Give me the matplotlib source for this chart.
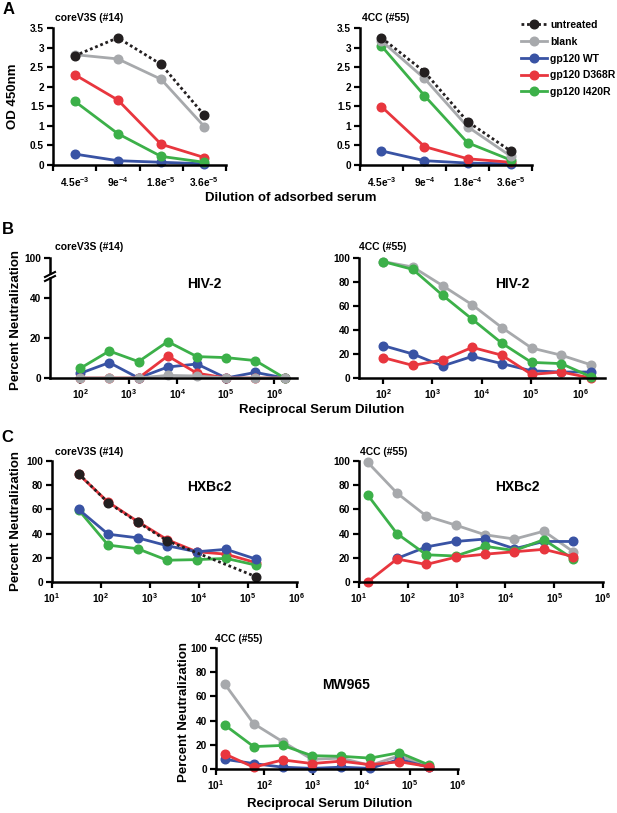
import matplotlib.pyplot as plt
import numpy as np
from matplotlib.lines import Line2D

plt.rcParams["font.family"] = ["Liberation Sans", "DejaVu Sans"]
plt.rcParams["font.weight"] = "bold"
plt.rcParams["mathtext.fontset"] = "custom"
plt.rcParams["mathtext.rm"] = "Liberation Sans:bold"
plt.rcParams["mathtext.bf"] = "Liberation Sans:bold"
plt.rcParams["mathtext.default"] = "bf"

W, H = 617, 813
nan = np.nan

# --- Series styling ---
COLORS = {
    "untreated": "#231f20",
    "blank": "#a7a9ac",
    "gp120 WT": "#3953a4",
    "gp120 D368R": "#e8363e",
    "gp120 I420R": "#3cb049",
}
LEGEND_ORDER = ["untreated", "blank", "gp120 WT", "gp120 D368R", "gp120 I420R"]
LW, MS = 2.0, 6.2

# --- A: OD450 of adsorbed serum ---
a14_dilutions = [r"4.5e$^{-3}$", r"9e$^{-4}$", r"1.8e$^{-5}$", r"3.6e$^{-5}$"]
a55_dilutions = [r"4.5e$^{-3}$", r"9e$^{-4}$", r"1.8e$^{-4}$", r"3.6e$^{-5}$"]
a14_untreated = [2.79, 3.25, 2.57, 1.27]
a14_blank = [2.82, 2.71, 2.19, 0.98]
a14_wt = [0.28, 0.11, 0.07, 0.03]
a14_d368r = [2.31, 1.66, 0.53, 0.19]
a14_i420r = [1.63, 0.80, 0.22, 0.07]
a55_untreated = [3.25, 2.38, 1.11, 0.36]
a55_blank = [3.17, 2.21, 0.98, 0.23]
a55_wt = [0.36, 0.11, 0.05, 0.03]
a55_d368r = [1.49, 0.47, 0.16, 0.07]
a55_i420r = [3.04, 1.77, 0.57, 0.13]
a_yticks = [0, 0.5, 1, 1.5, 2, 2.5, 3, 3.5]
a_yticklabels = ["0", "0.5", "1", "1.5", "2", "2.5", "3", "3.5"]

# --- B: HIV-2 neutralization ---
b_dilution = [100, 400, 1600, 6400, 25600, 102400, 409600, 1638400]
b14_blank = [0, 0, 0, 1.3, 1.0, 0, 0, 0]
b14_wt = [2.3, 7.7, 0, 5.5, 7.0, 0, 2.8, 0]
b14_d368r = [0, 0, 0, 11, 2.4, 0, 0, 0]
b14_i420r = [4.8, 13.5, 8.2, 18.2, 10.7, 10.2, 8.7, 0]
b55_blank = [97, 92.5, 77, 61, 42, 25, 19, 11]
b55_wt = [27, 20, 10, 18, 12, 6, 5, 5]
b55_d368r = [17, 10.5, 15, 25.5, 19, 3, 5, 0]
b55_i420r = [97, 90.5, 69, 49, 29, 13, 12, 1]

# --- C: HXBc2 and MW965 neutralization ---
c14_dilution = [35, 140, 560, 2240, 8960, 35840, 143360]
c14_untreated = [89.5, 65.5, 49.5, 34, nan, nan, 4.5]
c14_wt = [60, 39.5, 36.5, 30, 25, 27, 19]
c14_d368r = [89, 66, 50, 35, 25, 23, 16]
c14_i420r = [59.5, 30.5, 27.5, 18, 18.5, 19.5, 14]
c55_dilution = [15, 60, 240, 960, 3840, 15360, 61440, 245760]
c55_blank = [99, 73.5, 54.5, 47, 39, 35.5, 42, 25]
c55_wt = [nan, 19.5, 29, 33.5, 35.5, 27.5, 33.5, 33.5]
c55_d368r = [0, 19, 14.5, 20.5, 23, 25, 27, 21]
c55_i420r = [72, 40, 22.5, 21.5, 29.5, 26, 35, 19]
mw_blank = [70.5, 37.5, 22.5, 8, 9, 3, 11, 2]
mw_wt = [8, 4.5, 1.5, 0.5, 1.5, 0.5, 8, 1.5]
mw_d368r = [12.5, 1.5, 7.5, 4.5, 6.5, 3.5, 6, 2]
mw_i420r = [36.5, 18.5, 19.5, 11, 10.5, 9, 13.5, 3.5]

pct_ticks = [0, 20, 40, 60, 80, 100]
log_ticks = [1e1, 1e2, 1e3, 1e4, 1e5, 1e6]
log_labels = [r"10$^{1}$", r"10$^{2}$", r"10$^{3}$", r"10$^{4}$", r"10$^{5}$", r"10$^{6}$"]

fig = plt.figure(figsize=(W / 100, H / 100), dpi=100)


def px_axes(x0, y0, x1, y1):
    return fig.add_axes([x0 / W, 1 - y1 / H, (x1 - x0) / W, (y1 - y0) / H])


def ftext(x, y, s, **kw):
    kw.setdefault("ha", "center")
    kw.setdefault("va", "center")
    kw.setdefault("fontweight", "bold")
    return fig.text(x / W, 1 - y / H, s, **kw)


def style_axes(ax):
    for s in ("top", "right"):
        ax.spines[s].set_visible(False)
    for s in ("left", "bottom"):
        ax.spines[s].set_linewidth(1.8)
    ax.tick_params(direction="out", length=4.5, width=1.6, labelsize=7.3, pad=2)
    ax.patch.set_alpha(0)


def plot_series(ax, x, y, key):
    x = np.asarray(x, float)
    y = np.asarray(y, float)
    ok = ~np.isnan(y)
    ls = (0, (1, 1)) if key == "untreated" else "-"
    ax.plot(x[ok], y[ok], color=COLORS[key], lw=LW, ls=ls, marker="o",
            ms=MS, clip_on=False, dash_capstyle="butt")


def draw(ax, x, data, order):
    for key in order:
        plot_series(ax, x, data[key], key)


def log_pct_axes(ax, xlim, ticks, labels):
    style_axes(ax)
    ax.set_xscale("log")
    ax.set_xlim(*xlim)
    ax.xaxis.set_minor_locator(plt.NullLocator())
    ax.set_xticks(ticks)
    ax.set_xticklabels(labels)
    ax.set_ylim(0, 100)
    ax.set_yticks(pct_ticks)


# ---------------- Panel A ----------------
for (x0, x1, labels, data, title) in [
    (53, 226, a14_dilutions,
     {"untreated": a14_untreated, "blank": a14_blank, "gp120 WT": a14_wt,
      "gp120 D368R": a14_d368r, "gp120 I420R": a14_i420r}, "coreV3S (#14)"),
    (360, 532, a55_dilutions,
     {"untreated": a55_untreated, "blank": a55_blank, "gp120 WT": a55_wt,
      "gp120 D368R": a55_d368r, "gp120 I420R": a55_i420r}, "4CC (#55)"),
]:
    ax = px_axes(x0, 28, x1, 165)
    style_axes(ax)
    pos = np.arange(len(labels))
    draw(ax, pos, data, ["gp120 WT", "gp120 D368R", "gp120 I420R", "blank", "untreated"])
    ax.set_xlim(-0.5, len(labels) - 0.5)
    ax.set_ylim(0, 3.5)
    ax.set_yticks(a_yticks)
    ax.set_yticklabels(a_yticklabels)
    ax.set_xticks(pos)
    ax.set_xticklabels(labels)
    ax.set_xticks(np.arange(len(labels) + 1) - 0.5, minor=True)
    ax.tick_params(axis="x", which="major", length=0, pad=7)
    ax.tick_params(axis="x", which="minor", length=4.5, width=1.6)
    ftext(x0 + 2, 18, title, ha="left", fontsize=7.5)
    if x0 > 300:
        handles = [Line2D([], [], color=COLORS[k], lw=LW, marker="o", ms=MS,
                          ls=(0, (1, 1)) if k == "untreated" else "-")
                   for k in LEGEND_ORDER]
        ax.legend(handles, LEGEND_ORDER, loc="upper left",
                  bbox_to_anchor=(521 / W, 1 - 20 / H), bbox_transform=fig.transFigure,
                  frameon=False, fontsize=7.5, handlelength=2.5, handletextpad=0.3,
                  labelspacing=0.65, borderpad=0, borderaxespad=0)

ftext(13, 96, "OD 450nm", rotation=90, fontsize=9.5)
ftext(291, 198, "Dilution of adsorbed serum", fontsize=9.5)
ftext(9, 9, "A", fontsize=12)

# ---------------- Panel B ----------------
b_xlim_l = (10 ** 1.38, 10 ** 6.47)
ax_hi = px_axes(50, 258, 297, 273)
ax_lo = px_axes(50, 278, 297, 378)
for ax in (ax_hi, ax_lo):
    style_axes(ax)
    ax.set_xscale("log")
    ax.set_xlim(*b_xlim_l)
    ax.xaxis.set_minor_locator(plt.NullLocator())
ax_hi.spines["bottom"].set_visible(False)
ax_hi.set_xticks([])
ax_hi.set_ylim(93, 100)
ax_hi.set_yticks([100])
ax_lo.set_ylim(0, 50)
ax_lo.set_yticks([0, 20, 40])
ax_lo.set_xticks(log_ticks[1:])
ax_lo.set_xticklabels(log_labels[1:])
draw(ax_lo, b_dilution,
     {"blank": b14_blank, "gp120 WT": b14_wt, "gp120 D368R": b14_d368r,
      "gp120 I420R": b14_i420r},
     ["gp120 WT", "gp120 D368R", "gp120 I420R", "blank"])
for dy in (0, 4):
    fig.add_artist(Line2D([45 / W, 55 / W], [1 - (277 + dy) / H, 1 - (272 + dy) / H],
                          color="black", lw=1.5, transform=fig.transFigure))

ax = px_axes(359, 258, 605, 378)
log_pct_axes(ax, (10 ** 1.51, 10 ** 6.5), log_ticks[1:], log_labels[1:])
draw(ax, b_dilution,
     {"blank": b55_blank, "gp120 WT": b55_wt, "gp120 D368R": b55_d368r,
      "gp120 I420R": b55_i420r},
     ["blank", "gp120 WT", "gp120 D368R", "gp120 I420R"])

ftext(55, 247, "coreV3S (#14)", ha="left", fontsize=7.5)
ftext(359, 247, "4CC (#55)", ha="left", fontsize=7.5)
ftext(204, 284, "HIV-2", fontsize=10)
ftext(512, 284, "HIV-2", fontsize=10)
ftext(16, 320, "Percent Neutralization", rotation=90, fontsize=9.5)
ftext(322, 410, "Reciprocal Serum Dilution", fontsize=9.5)
ftext(8, 230, "B", fontsize=12)

# ---------------- Panel C ----------------
ax = px_axes(52, 461, 297, 582)
log_pct_axes(ax, (1e1, 1e6), log_ticks, log_labels)
draw(ax, c14_dilution,
     {"untreated": c14_untreated, "gp120 WT": c14_wt, "gp120 D368R": c14_d368r,
      "gp120 I420R": c14_i420r},
     ["gp120 D368R", "gp120 I420R", "gp120 WT", "untreated"])

ax = px_axes(359, 461, 603, 582)
log_pct_axes(ax, (1e1, 1e6), log_ticks, log_labels)
draw(ax, c55_dilution,
     {"blank": c55_blank, "gp120 WT": c55_wt, "gp120 D368R": c55_d368r,
      "gp120 I420R": c55_i420r},
     ["blank", "gp120 WT", "gp120 I420R", "gp120 D368R"])

ax = px_axes(216, 648, 458, 769)
log_pct_axes(ax, (1e1, 1e6), log_ticks, log_labels)
draw(ax, c55_dilution,
     {"blank": mw_blank, "gp120 WT": mw_wt, "gp120 D368R": mw_d368r,
      "gp120 I420R": mw_i420r},
     ["blank", "gp120 WT", "gp120 I420R", "gp120 D368R"])

ftext(55, 452, "coreV3S (#14)", ha="left", fontsize=7.5)
ftext(360, 452, "4CC (#55)", ha="left", fontsize=7.5)
ftext(215, 639, "4CC (#55)", ha="left", fontsize=7.5)
ftext(209, 487, "HXBc2", fontsize=10)
ftext(517, 487, "HXBc2", fontsize=10)
ftext(346, 685, "MW965", fontsize=10)
ftext(16, 521, "Percent Neutralization", rotation=90, fontsize=9.5)
ftext(184, 712, "Percent Neutralization", rotation=90, fontsize=9.5)
ftext(330, 804, "Reciprocal Serum Dilution", fontsize=9.5)
ftext(7, 437, "C", fontsize=12)

fig.savefig("out.png", dpi=100)
